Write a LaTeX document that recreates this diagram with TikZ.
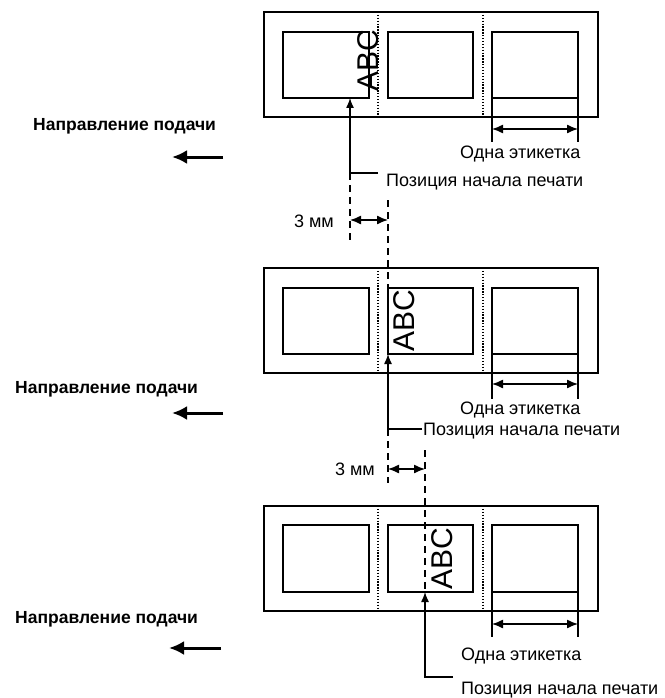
\documentclass[tikz,border=0pt]{standalone}
\usepackage{fontspec}
\setmainfont{Liberation Sans}
\usetikzlibrary{arrows.meta}
\begin{document}
\begin{tikzpicture}[x=1pt,y=-1pt,
  outerbox/.style={line width=1.8pt},
  innerbox/.style={line width=1.4pt},
  perfline/.style={line width=1.3pt, dash pattern=on 1.3pt off 1.6pt},
  guideline/.style={line width=1.3pt, dash pattern=on 7pt off 5pt},
  extline/.style={line width=1.4pt},
  dimarrow/.style={line width=1.3pt, {Latex[length=11pt,width=9pt]}-{Latex[length=11pt,width=9pt]}},
  startarrow/.style={line width=1.3pt, -{Latex[length=10pt,width=8pt]}},
  feedarrow/.style={line width=3pt, -{Latex[length=15pt,width=14pt]}},
  lbl/.style={inner sep=0pt, font=\fontsize{18}{21}\selectfont},
  feedlbl/.style={inner sep=0pt, font=\fontsize{17.5}{20}\selectfont\bfseries},
  abc/.style={inner sep=0pt, rotate=90, anchor=base west, font=\fontsize{30}{34}\selectfont}]
\useasboundingbox (0,0) rectangle (664,698);

% ---------- panel 1 ----------
\begin{scope}[shift={(0,12)}]
  \draw[outerbox] (264,0) rectangle (598,105);
  \draw[perfline] (378,0) -- (378,105);
  \draw[perfline] (483,0) -- (483,105);
  \draw[innerbox] (283,20) rectangle (369,86);
  \draw[innerbox] (388,20) rectangle (473,86);
  \draw[innerbox] (492,20) rectangle (578,86);
  \coordinate (e1a) at (492,86); \coordinate (e1b) at (492,130);
  \coordinate (e1c) at (578,86); \coordinate (e1d) at (578,130);
  \draw[extline] (e1a) -- (e1b);
  \draw[extline] (e1c) -- (e1d);
  \coordinate (d1l) at (492,117); \coordinate (d1r) at (578,117);
  \draw[dimarrow] (d1l) -- (d1r);
  \node[lbl, anchor=base west] (one1) at (460,146) {Одна этикетка};
  \node[abc] (abc1) at (378,80) {ABC};
  \node[feedlbl, anchor=base west] (feed1) at (33,119) {Направление подачи};
  \coordinate (f1s) at (223,145); \coordinate (f1e) at (172,145);
  \draw[feedarrow] (f1s) -- (f1e);
\end{scope}
\coordinate (s1tip) at (350,98);
\coordinate (s1c) at (350,173);
\coordinate (s1h) at (378,173);
\draw[startarrow] (s1h) -- (s1c) -- (s1tip);
\node[lbl, anchor=base west] (start1) at (386,186) {Позиция начала печати};

% ---------- gap 1 ----------
\coordinate (g1a) at (350,243);
\draw[guideline] (s1c) -- (g1a);
\coordinate (g1b) at (388,200);
\coordinate (g1c) at (388,288);
\draw[guideline] (g1b) -- (g1c);
\coordinate (m1l) at (350,220); \coordinate (m1r) at (388,220);
\draw[dimarrow] (m1l) -- (m1r);
\node[lbl, anchor=base east] (mm1) at (334,227) {3 мм};

% ---------- panel 2 ----------
\begin{scope}[shift={(0,268)}]
  \draw[outerbox] (264,0) rectangle (598,105);
  \draw[perfline] (378,0) -- (378,105);
  \draw[perfline] (483,0) -- (483,105);
  \draw[innerbox] (283,20) rectangle (369,86);
  \draw[innerbox] (388,20) rectangle (473,86);
  \draw[innerbox] (492,20) rectangle (578,86);
  \coordinate (e2a) at (492,86); \coordinate (e2b) at (492,131);
  \coordinate (e2c) at (578,86); \coordinate (e2d) at (578,131);
  \draw[extline] (e2a) -- (e2b);
  \draw[extline] (e2c) -- (e2d);
  \coordinate (d2l) at (492,116); \coordinate (d2r) at (578,116);
  \draw[dimarrow] (d2l) -- (d2r);
  \node[lbl, anchor=base west] (one2) at (460,146.5) {Одна этикетка};
  \node[abc] (abc2) at (414,84) {ABC};
  \node[feedlbl, anchor=base west] (feed2) at (15,125) {Направление подачи};
  \coordinate (f2s) at (223,145); \coordinate (f2e) at (172,145);
  \draw[feedarrow] (f2s) -- (f2e);
\end{scope}
\coordinate (s2tip) at (388,354);
\coordinate (s2c) at (388,429);
\coordinate (s2h) at (422,429);
\draw[startarrow] (s2h) -- (s2c) -- (s2tip);
\node[lbl, anchor=base west] (start2) at (423,435) {Позиция начала печати};

% ---------- gap 2 ----------
\coordinate (g2a) at (388,483);
\draw[guideline] (s2c) -- (g2a);
\coordinate (g2b) at (425,450);
\coordinate (g2c) at (425,590);
\draw[guideline] (g2b) -- (g2c);
\coordinate (m2l) at (388,469); \coordinate (m2r) at (425,469);
\draw[dimarrow] (m2l) -- (m2r);
\node[lbl, anchor=base east] (mm2) at (375,475) {3 мм};

% ---------- panel 3 ----------
\begin{scope}[shift={(0,506)}]
  \draw[outerbox] (264,0) rectangle (598,105);
  \draw[perfline] (378,0) -- (378,105);
  \draw[perfline] (483,0) -- (483,105);
  \draw[innerbox] (283,19) rectangle (369,86);
  \draw[innerbox] (388,19) rectangle (473,86);
  \draw[innerbox] (492,19) rectangle (578,86);
  \coordinate (e3a) at (492,86); \coordinate (e3b) at (492,131);
  \coordinate (e3c) at (578,86); \coordinate (e3d) at (578,131);
  \draw[extline] (e3a) -- (e3b);
  \draw[extline] (e3c) -- (e3d);
  \coordinate (d3l) at (492,118); \coordinate (d3r) at (578,118);
  \draw[dimarrow] (d3l) -- (d3r);
  \node[lbl, anchor=base west] (one3) at (461,154) {Одна этикетка};
  \node[abc] (abc3) at (452,84) {ABC};
  \node[feedlbl, anchor=base west] (feed3) at (15,117) {Направление подачи};
  \coordinate (f3s) at (221,142); \coordinate (f3e) at (169,142);
  \draw[feedarrow] (f3s) -- (f3e);
\end{scope}
\coordinate (s3tip) at (425,592);
\coordinate (s3c) at (425,677);
\coordinate (s3h) at (453,677);
\draw[startarrow] (s3h) -- (s3c) -- (s3tip);
\node[lbl, anchor=base west] (start3) at (461,694) {Позиция начала печати};
\end{tikzpicture}
\end{document}
